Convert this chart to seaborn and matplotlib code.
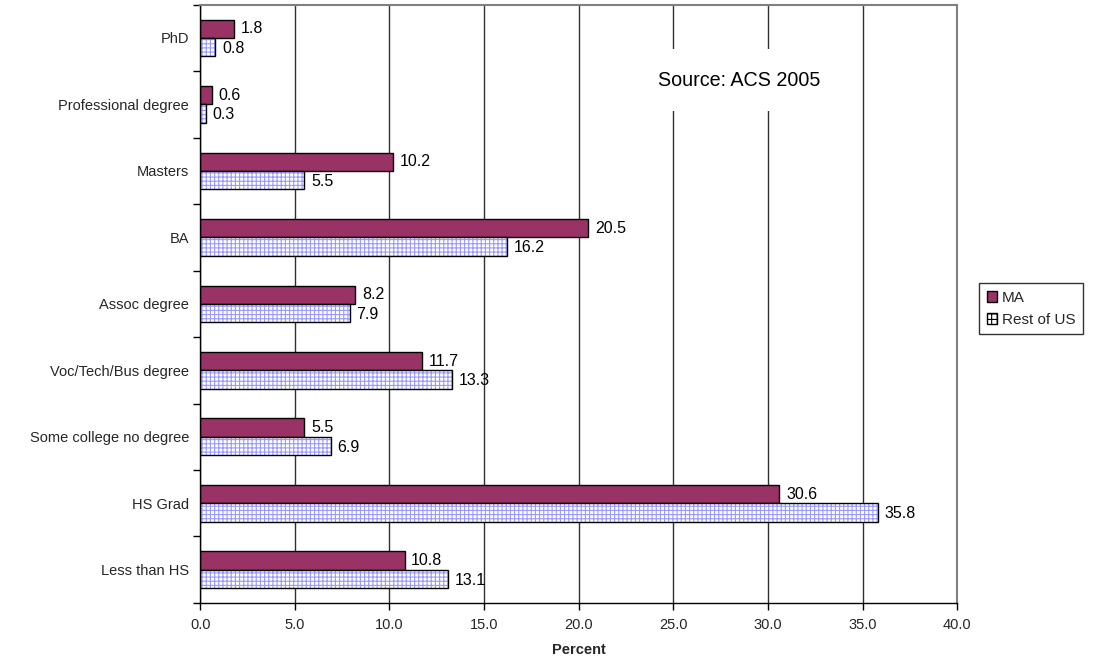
import matplotlib
matplotlib.use("Agg")
import matplotlib.pyplot as plt
import matplotlib.patches as mpatches
import seaborn as sns
import pandas as pd
import numpy as np

categories = ["PhD", "Professional degree", "Masters", "BA", "Assoc degree",
              "Voc/Tech/Bus degree", "Some college no degree", "HS Grad", "Less than HS"]
ma_values = [1.8, 0.6, 10.2, 20.5, 8.2, 11.7, 5.5, 30.6, 10.8]
us_values = [0.8, 0.3, 5.5, 16.2, 7.9, 13.3, 6.9, 35.8, 13.1]
series_names = ["MA", "Rest of US"]
x_ticks = [0, 5, 10, 15, 20, 25, 30, 35, 40]

df = pd.DataFrame({
    "category": categories * 2,
    "value": ma_values + us_values,
    "series": [series_names[0]] * len(categories) + [series_names[1]] * len(categories),
})

sns.set_theme(style="white")
plt.rcParams["font.family"] = ["Liberation Sans", "DejaVu Sans"]
plt.rcParams["hatch.linewidth"] = 0.8

MA_COLOR = "#993366"
HATCH_COLOR = "#9999ff"

fig = plt.figure(figsize=(10.94, 6.67), dpi=100)
ax = fig.add_axes([0.183, 0.096, 0.692, 0.897])

sns.barplot(data=df, y="category", x="value", hue="series", order=categories,
            hue_order=series_names, palette=[MA_COLOR, "white"], orient="h",
            width=0.55, gap=0, edgecolor="black", linewidth=1.0,
            saturation=1, legend=False, ax=ax)

# Style the "Rest of US" bars with a fine blue grid hatch and a black outline
n = len(categories)
bars = [p for p in ax.patches if isinstance(p, mpatches.Rectangle)]
ma_bars = bars[:n]
us_bars = bars[n:2 * n]
for p in us_bars:
    p.set_hatch("++++")
    p.set_edgecolor(HATCH_COLOR)
    p.set_linewidth(0)
    outline = mpatches.Rectangle(p.get_xy(), p.get_width(), p.get_height(),
                                 fill=False, edgecolor="black", linewidth=1.0, zorder=p.get_zorder() + 0.1)
    ax.add_patch(outline)

# Value labels
for p, v in zip(ma_bars, ma_values):
    ax.text(v + 0.35, p.get_y() + p.get_height() / 2, f"{v:.1f}",
            va="center", ha="left", fontsize=11.5, color="black")
for p, v in zip(us_bars, us_values):
    ax.text(v + 0.35, p.get_y() + p.get_height() / 2 + 0.02, f"{v:.1f}",
            va="center", ha="left", fontsize=11.5, color="black")

ax.set_xlim(0, 40)
ax.set_ylim(n - 0.5, -0.5)
ax.set_xticks(x_ticks)
ax.set_xticklabels([f"{t:.1f}" for t in x_ticks], fontsize=10.5)
ax.set_yticks(range(n))
ax.set_yticklabels(categories, fontsize=10.5)
ax.tick_params(axis="y", length=0, pad=8)
ax.tick_params(axis="x", length=5, width=1, color="black", direction="out", pad=6, bottom=True)
ax.set_yticks(np.arange(-0.5, n, 1), minor=True)
ax.tick_params(axis="y", which="minor", length=5, width=1, color="black", left=True)

ax.xaxis.grid(True, color="#303030", linewidth=1.0)
ax.yaxis.grid(False)
ax.set_axisbelow(True)

ax.set_xlabel("Percent", fontsize=10.5, fontweight="bold", labelpad=8)
ax.set_ylabel("")

for side in ["left", "bottom"]:
    ax.spines[side].set_color("black")
    ax.spines[side].set_linewidth(1.0)
for side in ["top", "right"]:
    ax.spines[side].set_color("#808080")
    ax.spines[side].set_linewidth(1.5)

ax.text(0.712, 0.874, "Source: ACS 2005", transform=ax.transAxes, ha="center", va="center",
        fontsize=14.2, color="black",
        bbox=dict(boxstyle="square,pad=1.1", facecolor="white", edgecolor="none"), zorder=5)

handles = [
    mpatches.Patch(facecolor=MA_COLOR, edgecolor="black", linewidth=1.0, label=series_names[0]),
    mpatches.Patch(facecolor="white", edgecolor="black", hatch="+++", linewidth=1.0, label=series_names[1]),
]
fig.legend(handles=handles, loc="center left", bbox_to_anchor=(0.888, 0.537),
           frameon=True, fancybox=False, edgecolor="black", fontsize=11,
           handlelength=0.7, handleheight=0.7, handletextpad=0.3, borderpad=0.5,
           labelspacing=0.5)

fig.savefig("out.png", dpi=100, facecolor="white")
